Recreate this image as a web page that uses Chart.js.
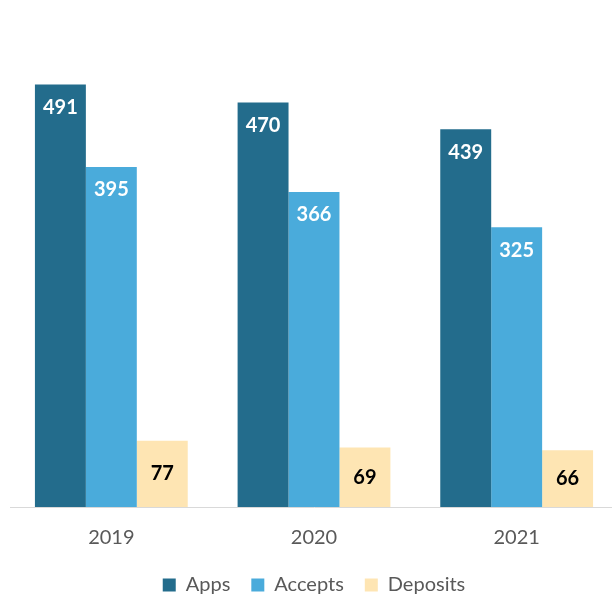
<!DOCTYPE html>
<html>
<head>
<meta charset="utf-8">
<script src="https://cdn.jsdelivr.net/npm/chart.js@4/dist/chart.umd.min.js"></script>
<style>
  html, body { margin: 0; padding: 0; background: #fff; overflow: hidden; }
  /* slightly larger than the window: plot runs to the right edge and the legend sits low */
  #wrap { width: 618px; height: 605px; }
</style>
</head>
<body>
<div id="wrap"><canvas id="enrollChart"></canvas></div>
<script>
// data
const years = ['2019', '2020', '2021'];
const apps = [491, 470, 439];
const accepts = [395, 366, 325];
const deposits = [77, 69, 66];

const FONT = 'Lato, "Open Sans", sans-serif';

// draws the value inside each bar (no datalabels plugin available offline)
const barValues = {
  id: 'barValues',
  afterDatasetsDraw(chart) {
    const c = chart.ctx;
    c.save();
    c.font = 'bold 20px ' + FONT;
    c.textAlign = 'center';
    c.textBaseline = 'middle';
    chart.data.datasets.forEach((ds, i) => {
      const meta = chart.getDatasetMeta(i);
      meta.data.forEach((bar, j) => {
        let y;
        if (i === 2) {
          // deposits: centred in the bar, dark text
          y = (bar.y + bar.base) / 2;
          c.fillStyle = '#000';
        } else {
          y = bar.y + 23;
          c.fillStyle = '#fff';
        }
        c.fillText(String(ds.data[j]), bar.x, y);
      });
    });
    c.restore();
  }
};

new Chart(document.getElementById('enrollChart'), {
  type: 'bar',
  data: {
    labels: years,
    datasets: [
      { label: 'Apps', data: apps, backgroundColor: '#236c8c' },
      { label: 'Accepts', data: accepts, backgroundColor: '#4aabdb' },
      { label: 'Deposits', data: deposits, backgroundColor: '#fee5b3' }
    ]
  },
  options: {
    responsive: true,
    maintainAspectRatio: false,
    animation: false,
    devicePixelRatio: 1,
    layout: { padding: { top: 25, left: 10, right: 0, bottom: 0 } },
    datasets: {
      bar: { categoryPercentage: 0.754, barPercentage: 1.0 }
    },
    plugins: {
      tooltip: { enabled: false },
      legend: {
        position: 'bottom',
        labels: {
          font: { family: FONT, size: 20 },
          color: '#595959',
          boxWidth: 13,
          boxHeight: 13,
          padding: 21
        }
      }
    },
    scales: {
      x: {
        grid: { display: false, drawTicks: false },
        border: { display: true, color: '#d9d9d9', width: 1 },
        ticks: {
          font: { family: FONT, size: 20 },
          color: '#595959',
          padding: 19
        },
        afterFit(scale) { scale.height = 47; }
      },
      y: {
        display: false,
        min: 0,
        max: 560
      }
    }
  },
  plugins: [barValues]
});
</script>
</body>
</html>
